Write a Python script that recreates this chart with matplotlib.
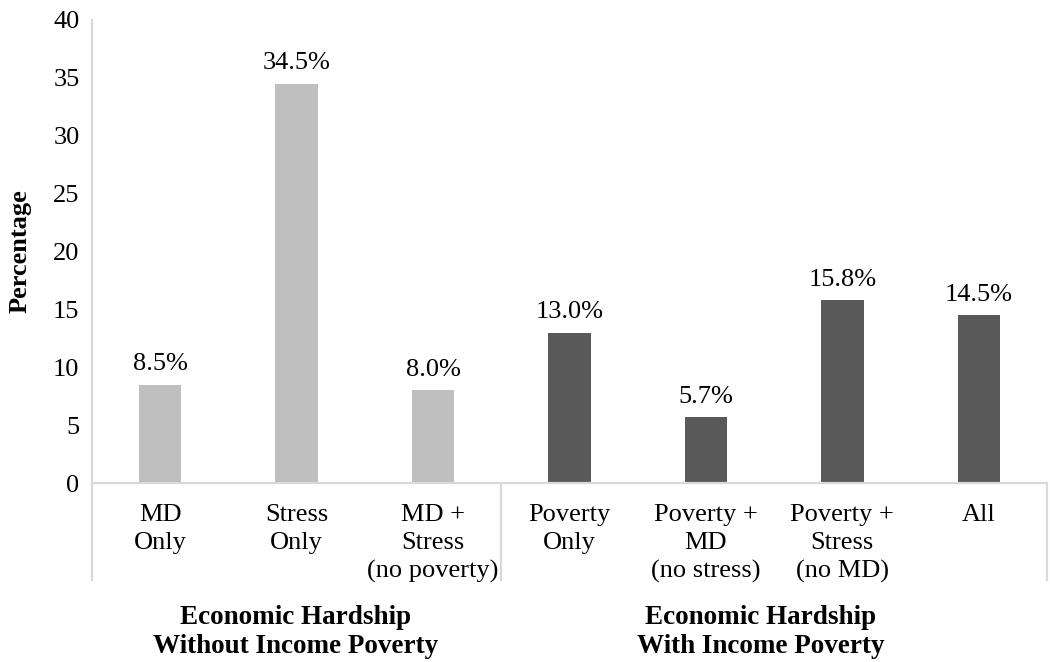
import numpy as np
import matplotlib
matplotlib.use("Agg")
import matplotlib.pyplot as plt
import matplotlib.transforms as mtransforms

plt.rcParams['font.family'] = ['Liberation Serif', 'DejaVu Serif']

categories = ["MD\nOnly", "Stress\nOnly", "MD +\nStress\n(no poverty)",
              "Poverty\nOnly", "Poverty +\nMD\n(no stress)",
              "Poverty +\nStress\n(no MD)", "All"]
values = [8.5, 34.5, 8.0, 13.0, 5.7, 15.8, 14.5]
groups = ["Economic Hardship\nWithout Income Poverty",
          "Economic Hardship\nWith Income Poverty"]
group_sizes = [3, 4]
group_colors = ["#bfbfbf", "#595959"]

line_col = "#d9d9d9"

fig = plt.figure(figsize=(10.5, 6.62), dpi=100)
ax = fig.add_axes([92/1050, 1-483/662, (1047-92)/1050, (483-20)/662])

x = np.arange(len(values))
colors = []
for g, n in enumerate(group_sizes):
    colors += [group_colors[g]] * n
ax.bar(x, values, width=0.31, color=colors, zorder=2)

for xi, v in zip(x, values):
    ax.text(xi, v + 0.8, f"{v:.1f}%", ha="center", va="bottom", fontsize=19)

ax.set_xlim(-0.5, len(values) - 0.5)
ax.set_ylim(0, 40)
ax.set_yticks(np.arange(0, 41, 5))
ax.tick_params(axis="y", length=0, pad=9, labelsize=19)
ax.set_xticks(x)
ax.set_xticklabels(categories, fontsize=19, linespacing=1.35)
ax.tick_params(axis="x", length=0, pad=15)

for s in ["top", "right"]:
    ax.spines[s].set_visible(False)
for s in ["left", "bottom"]:
    ax.spines[s].set_color(line_col)
    ax.spines[s].set_linewidth(1.6)

# group separators below the baseline
trans = mtransforms.blended_transform_factory(ax.transData, ax.transAxes)
depth = -(580 - 483) / (483 - 20)
bounds = [-0.5]
for n in group_sizes:
    bounds.append(bounds[-1] + n)
for b in bounds:
    ax.plot([b, b], [0, depth], color=line_col, lw=1.6, transform=trans, clip_on=False)

# group titles
group_centers = [0.99, 4.4]
for gx, name in zip(group_centers, groups):
    ax.text(gx, -(632 - 483) / (483 - 20), name, transform=trans, ha="center", va="center",
            fontsize=19.5, fontweight="bold", linespacing=1.25)

fig.text(20/1050, 1-251/662, "Percentage", rotation=90, ha="center", va="center",
         fontsize=19, fontweight="bold")

fig.savefig("out.png", dpi=100)
